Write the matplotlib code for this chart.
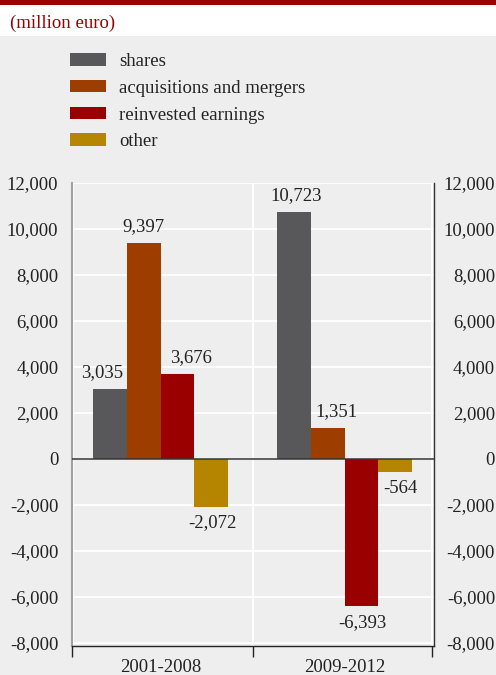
import matplotlib
matplotlib.use('Agg')
import matplotlib.pyplot as plt
from matplotlib.patches import Rectangle
from matplotlib.ticker import FixedLocator, FuncFormatter, NullFormatter
import numpy as np

categories = ['2001-2008', '2009-2012']
series = ['shares', 'acquisitions and mergers', 'reinvested earnings', 'other']
shares = [3035, 10723]
acquisitions = [9397, 1351]
reinvested = [3676, -6393]
other = [-2072, -564]
yticks = list(range(-8000, 12001, 2000))

colors = ['#58585a', '#9e3d00', '#9b0000', '#b58500']
label_dx = [[-8, 2], [0, 9], [14, 1], [1, 5]]  # pixel nudges of value labels

plt.rcParams['font.family'] = ['Liberation Serif', 'DejaVu Serif']
FS = 13.5
TXT = '#222222'
BG = '#eeeeee'
W, H = 496, 675
fig = plt.figure(figsize=(W / 100, H / 100), dpi=100)
fig.patch.set_facecolor(BG)
fig.patches.append(Rectangle((0, 1 - 36 / H), 1, 36 / H, transform=fig.transFigure,
                             facecolor='white', edgecolor='none', zorder=0))
fig.patches.append(Rectangle((0, 1 - 5 / H), 1, 5 / H, transform=fig.transFigure,
                             facecolor='#9b0000', edgecolor='none', zorder=1))
fig.text(10 / W, 1 - 23 / H, '(million euro)', color='#9b0000', fontsize=FS,
         va='center', ha='left')

ax = fig.add_axes([71.7 / W, 1 - 646 / H, (434 - 71.7) / W, (646 - 182.7) / H])
ax.set_facecolor(BG)
x = np.arange(len(categories))
bw = 0.1834
data = [shares, acquisitions, reinvested, other]
handles = []
for i, (name, vals, c) in enumerate(zip(series, data, colors)):
    pos = x + (i - 1.5) * bw
    b = ax.bar(pos, vals, width=bw, color=c, label=name, zorder=3, linewidth=0)
    handles.append(b)
    for j, (p, v) in enumerate(zip(pos, vals)):
        dy = 12 if v > 0 else -21
        ax.annotate(f'{v:,}', (p, v), xytext=(label_dx[i][j], dy),
                    textcoords='offset pixels', ha='center', va='baseline',
                    fontsize=FS, color=TXT, zorder=5)

xl = (-0.4826, 1.486)
ymin, ymax = -8130, 12000
ax.set_xlim(*xl)
ax.set_ylim(ymin, ymax)
bounds = [-0.4826, 0.5, 1.474]

ax.set_yticks(yticks)
ax.yaxis.set_major_formatter(FuncFormatter(lambda v, p: f'{int(v):,}'))
ax.grid(axis='y', color='white', linewidth=1.3, zorder=1)
for bx in [-0.477, 0.5, 1.474]:
    ax.axvline(bx, color='white', linewidth=1.3, zorder=1)
ax.axhline(0, color='#333333', linewidth=1.1, zorder=4)
ax.tick_params(axis='y', length=0, pad=9.6, labelsize=FS, labelcolor=TXT)

ax.xaxis.set_major_locator(FixedLocator(bounds))
ax.xaxis.set_major_formatter(NullFormatter())
ax.xaxis.set_minor_locator(FixedLocator(list(x)))
ax.xaxis.set_minor_formatter(FuncFormatter(lambda v, p: categories[int(round(v))]))
ax.tick_params(axis='x', which='major', direction='out', length=8, width=1, color='#222222')
ax.tick_params(axis='x', which='minor', length=0, pad=9.5, labelsize=FS, labelcolor=TXT)

ax.spines['top'].set_visible(False)
ax.spines['right'].set_visible(False)
ax.spines['left'].set_color('#a0a0a0')
ax.spines['left'].set_linewidth(1.5)
ax.spines['bottom'].set_color('#222222')
ax.spines['bottom'].set_linewidth(1.0)

ax2 = ax.twinx()
ax2.set_ylim(ymin, ymax)
ax2.set_yticks(yticks)
ax2.yaxis.set_major_formatter(FuncFormatter(lambda v, p: f'{int(v):,}'))
ax2.tick_params(axis='y', length=0, pad=44, labelsize=FS, labelcolor=TXT)
for l in ax2.get_yticklabels():
    l.set_horizontalalignment('right')
for s in ['top', 'left', 'bottom']:
    ax2.spines[s].set_visible(False)
ax2.spines['right'].set_color('#333333')
ax2.spines['right'].set_linewidth(1.0)

leg = fig.legend(handles=handles, labels=series, loc='upper left',
                 bbox_to_anchor=(70 / W, 1 - 53 / H), frameon=False, fontsize=FS,
                 handlelength=1.92, handleheight=0.64, handletextpad=0.7,
                 labelspacing=0.52, borderpad=0, borderaxespad=0)
for t in leg.get_texts():
    t.set_color(TXT)

fig.savefig('out.png', dpi=100, facecolor=fig.get_facecolor())
